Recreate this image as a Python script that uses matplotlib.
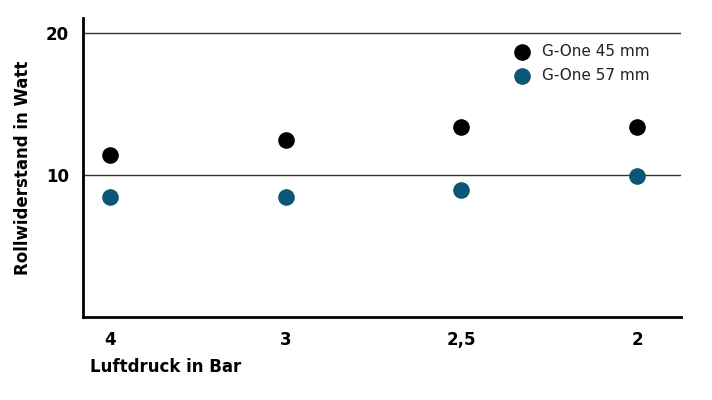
import matplotlib
matplotlib.use("Agg")
import matplotlib.pyplot as plt

categories = ["4", "3", "2,5", "2"]
g45 = [11.4, 12.5, 13.4, 13.4]
g57 = [8.45, 8.45, 8.95, 9.9]

fig = plt.figure(figsize=(7.12, 4.0), dpi=100)
ax = fig.add_axes([83/712, 83/400, (681-83)/712, (317-18)/400])
x = list(range(len(categories)))
ax.scatter(x, g45, s=120, color="black", label="G-One 45 mm", zorder=3)
ax.scatter(x, g57, s=120, color="#0b5575", label="G-One 57 mm", zorder=3)
ax.set_xlim(-0.154, 3.25)
ax.set_ylim(0, 21.06)
ax.set_yticks([10, 20])
ax.set_xticks(x)
ax.set_xticklabels(categories)
for t in ax.get_xticklabels() + ax.get_yticklabels():
    t.set_fontweight("bold"); t.set_fontsize(12)
ax.tick_params(length=0, pad=10)
for y in (10, 20):
    ax.axhline(y, color="#333333", lw=1, zorder=1)
for s in ("top", "right"):
    ax.spines[s].set_visible(False)
ax.spines["left"].set_linewidth(2)
ax.spines["bottom"].set_linewidth(2)
ax.set_ylabel("Rollwiderstand in Watt", fontsize=12, fontweight="bold", labelpad=10)
fig.text(90/712, 1-367/400, "Luftdruck in Bar", fontsize=12, fontweight="bold", va="center")
leg = ax.legend(loc="upper right", bbox_to_anchor=(0.97, 0.96), frameon=False, fontsize=11,
                handletextpad=0.3, labelspacing=0.6)
for t in leg.get_texts():
    t.set_color("#222222")
fig.savefig("out.png", dpi=100)
